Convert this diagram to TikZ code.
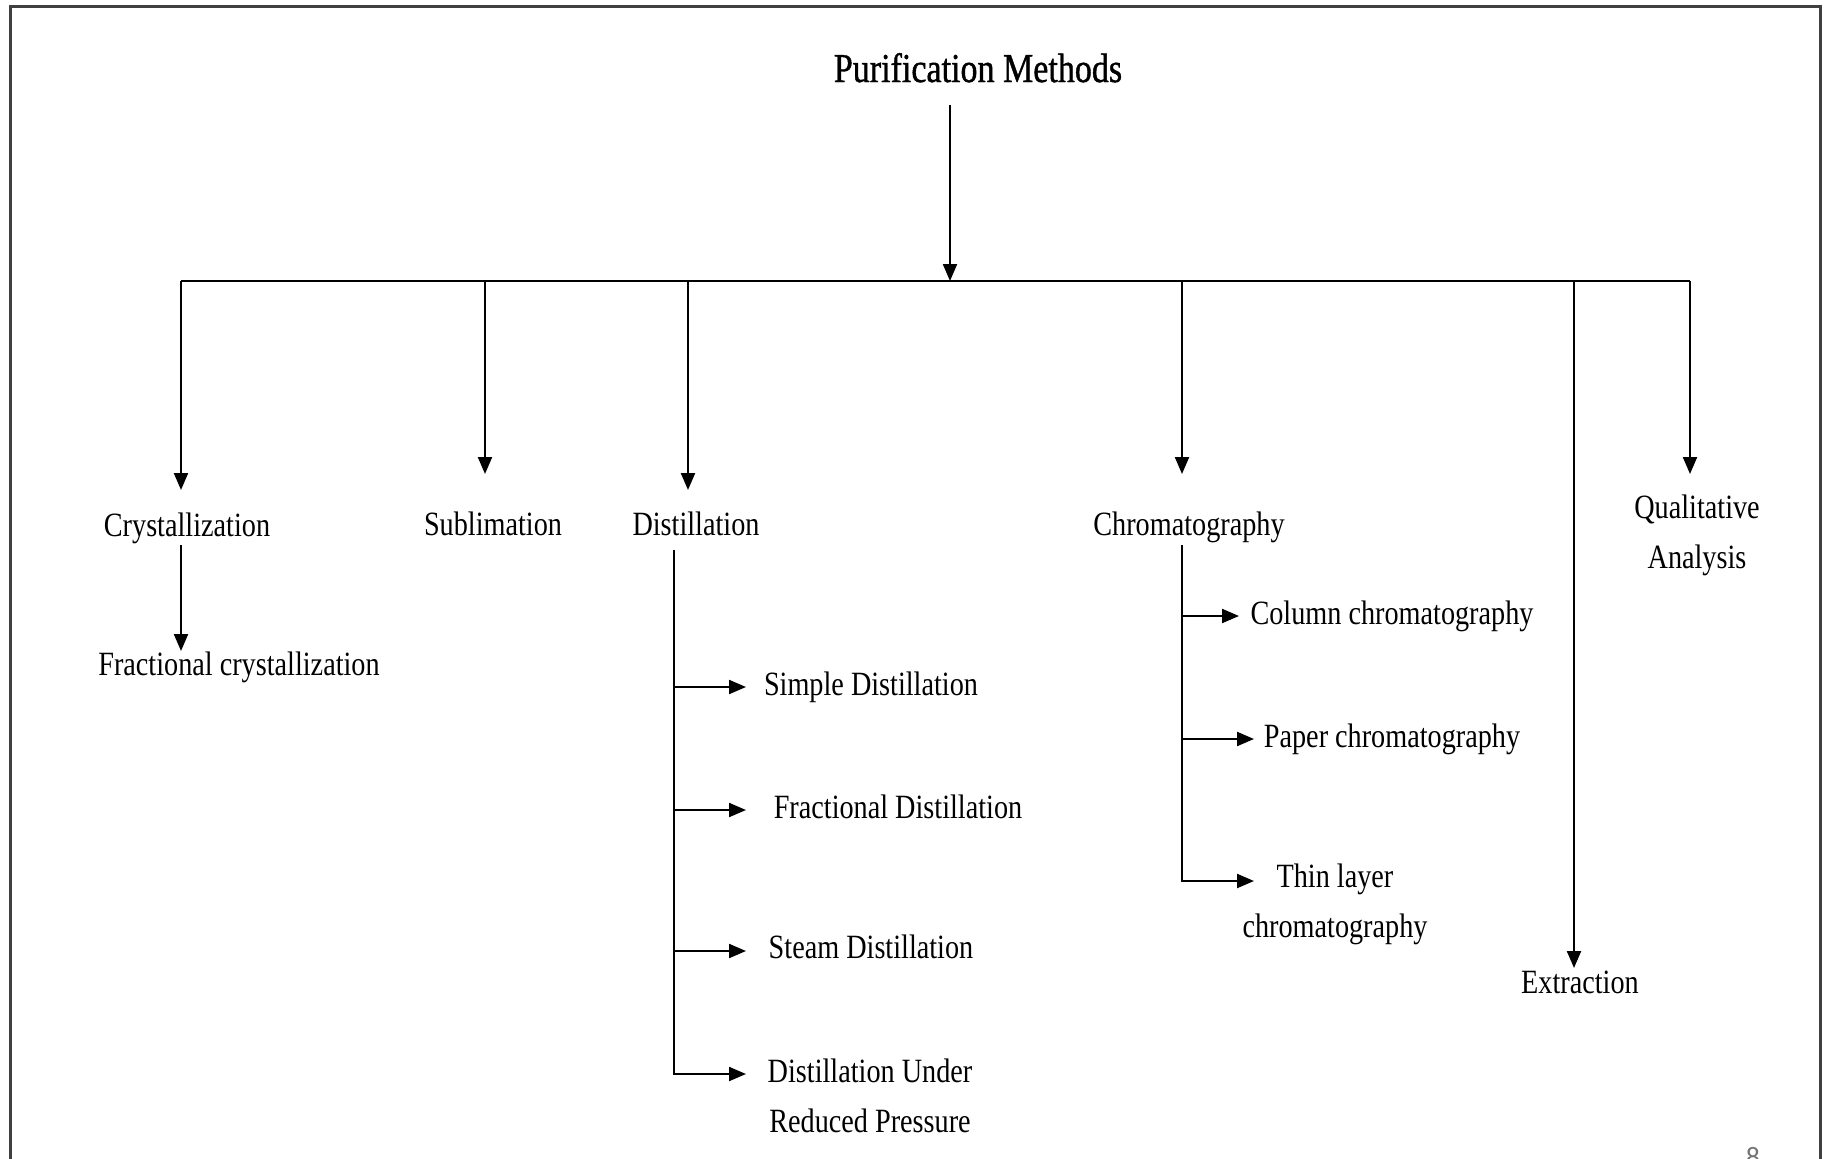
\documentclass[tikz,border=0pt]{standalone}
\usepackage{fontspec}
\setmainfont{Liberation Serif}[FakeStretch=0.83]
\newfontfamily\titlefont{Liberation Serif}[FakeStretch=0.83,FakeBold=1]
\newfontfamily\pagefont{Carlito}
\usetikzlibrary{arrows.meta}
\begin{document}
\begin{tikzpicture}[x=1pt,y=-1pt,
  lbl/.style={inner sep=0pt, anchor=base, align=center, font=\fontsize{34}{50}\selectfont},
  ttl/.style={inner sep=0pt, anchor=base, font=\titlefont\fontsize{41}{50}\selectfont},
  conn/.style={line width=2.2pt, draw=black},
  arr/.style={conn, -{Triangle[length=17pt,width=14pt]}},
  framestyle/.style={line width=3pt, draw=black!75},
  pagenum/.style={inner sep=0pt, anchor=base, text=black!55, font=\pagefont\fontsize{28}{28}\selectfont}]
\useasboundingbox (0,0) rectangle (1829,1159);
% frame
\draw[framestyle] (10,1175) -- (10,6) -- (1820,6) -- (1820,1175);
\begin{scope}
\clip (0,0) rectangle (1829,1159);
\node[pagenum] (pg) at (1753,1166) {8};
\end{scope}

% title
\node[ttl] (title) at (978,82) {Purification Methods};

% labels (multi-line nodes: base = last line)
\node[lbl] (crys) at (187,536) {Crystallization};
\node[lbl] (subl) at (493,535) {Sublimation};
\node[lbl] (dist) at (696,535) {Distillation};
\node[lbl] (chrom) at (1189,535) {Chromatography};
\node[lbl] (qual) at (1697,568) {Qualitative\\Analysis};
\node[lbl] (extr) at (1580,993) {Extraction};
\node[lbl] (fcrys) at (239,675) {Fractional crystallization};
\node[lbl] (sdist) at (871,695) {Simple Distillation};
\node[lbl] (fdist) at (898,818) {Fractional Distillation};
\node[lbl] (stdist) at (871,958) {Steam Distillation};
\node[lbl] (rdist) at (870,1132) {Distillation Under\\Reduced Pressure};
\node[lbl] (colc) at (1392,624) {Column chromatography};
\node[lbl] (papc) at (1392,747) {Paper chromatography};
\node[lbl] (tlc) at (1335,937) {Thin layer\\chromatography};

% junction coordinates
\coordinate (hub) at (950,281);
\coordinate (barL) at (181,281);
\coordinate (barS) at (485,281);
\coordinate (barD) at (688,281);
\coordinate (barC) at (1182,281);
\coordinate (barE) at (1574,281);
\coordinate (barR) at (1690,281);
% arrow tips
\coordinate (inCrys) at (181,490);
\coordinate (inSubl) at (485,474);
\coordinate (inDist) at (688,490);
\coordinate (inChrom) at (1182,474);
\coordinate (inExtr) at (1574,968);
\coordinate (inQual) at (1690,474);
\coordinate (crysOut) at (181,545);
\coordinate (inFcrys) at (181,651);
\coordinate (distOut) at (674,550);
\coordinate (dj1) at (674,687);
\coordinate (dj2) at (674,810);
\coordinate (dj3) at (674,951);
\coordinate (inSdist) at (746,687);
\coordinate (inFdist) at (746,810);
\coordinate (inStdist) at (746,951);
\coordinate (inRdist) at (746,1074);
\coordinate (chromOut) at (1182,545);
\coordinate (cj1) at (1182,616);
\coordinate (cj2) at (1182,739);
\coordinate (inColc) at (1239,616);
\coordinate (inPapc) at (1254,739);
\coordinate (inTlc) at (1254,881);

% main connectors
\draw[arr, shorten <=22pt] (title.south -| hub) -- (hub);
\draw[conn] (barL) -- (barR);
\draw[arr] (barL) -- (inCrys);
\draw[arr] (barS) -- (inSubl);
\draw[arr] (barD) -- (inDist);
\draw[arr] (barC) -- (inChrom);
\draw[arr] (barE) -- (inExtr);
\draw[arr] (barR) -- (inQual);

% crystallization
\draw[arr] (crysOut) -- (inFcrys);

% distillation
\draw[arr] (distOut) |- (inRdist);
\draw[arr] (dj1) -- (inSdist);
\draw[arr] (dj2) -- (inFdist);
\draw[arr] (dj3) -- (inStdist);

% chromatography
\draw[arr] (chromOut) |- (inTlc);
\draw[arr] (cj1) -- (inColc);
\draw[arr] (cj2) -- (inPapc);
\end{tikzpicture}
\end{document}
